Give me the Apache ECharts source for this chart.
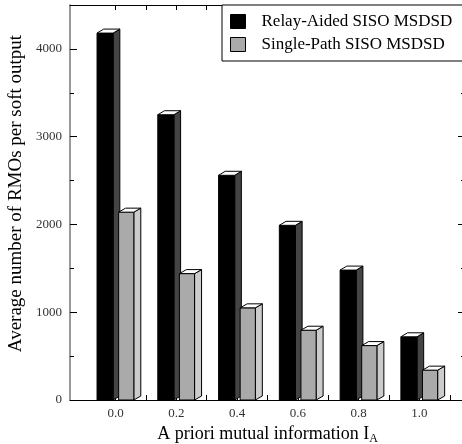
<!DOCTYPE html>
<html>
<head>
<meta charset="utf-8">
<script src="https://cdn.jsdelivr.net/npm/echarts@6/dist/echarts.min.js"></script>
<style>
  html, body { margin: 0; padding: 0; background: #fff; }
  #chart { width: 462px; height: 444px; }
</style>
</head>
<body>
<div id="chart"></div>
<script>
// a priori mutual information values
const priori = [0.0, 0.2, 0.4, 0.6, 0.8, 1.0];
// average RMOs per soft output
const relayAided = [4180, 3250, 2560, 1990, 1480, 720];
const singlePath = [2140, 1440, 1050, 795, 620, 340];
const xTicks = [0.0, 0.1, 0.2, 0.3, 0.4, 0.5, 0.6, 0.7, 0.8, 0.9, 1.0, 1.1];
const xLabels = [0.0, 0.2, 0.4, 0.6, 0.8, 1.0];
const yLabels = [0, 1000, 2000, 3000, 4000];

const FONT = "'Liberation Serif', 'Times New Roman', serif";

// draws one pseudo-3D bar: front face, side face, top face
function bar3d(x0, x1, depth, front, side) {
  return function (params, api) {
    const x = api.value(0);
    const v = api.value(1);
    const tl = api.coord([x + x0, v]);
    const br = api.coord([x + x1, 0]);
    const dx = api.size([depth, 0])[0];
    const dy = 4;
    const xl = tl[0], xr = br[0], yt = tl[1], yb = br[1];
    const line = { stroke: '#000', lineWidth: 1 };
    return {
      type: 'group',
      children: [
        {
          type: 'polygon',
          shape: { points: [[xr, yt], [xr + dx, yt - dy], [xr + dx, yb - dy], [xr, yb]] },
          style: Object.assign({ fill: side }, line)
        },
        {
          type: 'rect',
          shape: { x: xl, y: yt, width: xr - xl, height: yb - yt },
          style: Object.assign({ fill: front }, line)
        },
        {
          type: 'polygon',
          shape: { points: [[xl, yt], [xl + dx, yt - dy], [xr + dx, yt - dy], [xr, yt]] },
          style: Object.assign({ fill: '#fff' }, line)
        }
      ]
    };
  };
}

const chart = echarts.init(document.getElementById('chart'));

chart.setOption({
  animation: false,
  backgroundColor: '#fff',
  grid: { left: 70, top: 5, width: 395, height: 395, outerBoundsMode: 'none', containLabel: false },
  legend: {
    orient: 'vertical',
    left: 222,
    top: 5,
    padding: [8, 40, 8, 8],
    itemGap: 6,
    itemWidth: 15,
    itemHeight: 14,
    borderColor: '#000',
    borderWidth: 1,
    backgroundColor: '#fff',
    itemStyle: { borderColor: '#000', borderWidth: 1 },
    textStyle: { fontFamily: FONT, fontSize: 17, color: '#000', padding: [0, 0, 0, 11] },
    data: [
      { name: 'Relay-Aided SISO MSDSD', icon: 'rect' },
      { name: 'Single-Path SISO MSDSD', icon: 'rect' }
    ]
  },
  xAxis: [
    {
      type: 'value',
      min: -0.15,
      max: 1.15,
      position: 'bottom',
      name: '{a|A priori mutual information I}{s|A}',
      nameLocation: 'middle',
      nameGap: 21,
      nameTextStyle: {
        rich: {
          a: { fontFamily: FONT, fontSize: 18, color: '#000' },
          s: { fontFamily: FONT, fontSize: 12, color: '#000', padding: [10, 0, 0, 0] }
        }
      },
      splitLine: { show: false },
      axisLine: { onZero: false, lineStyle: { color: '#000', width: 1 } },
      axisTick: { inside: true, length: 5, customValues: xTicks, lineStyle: { color: '#000' } },
      axisLabel: {
        customValues: xLabels,
        margin: 7,
        fontFamily: FONT,
        fontSize: 13,
        color: '#333',
        formatter: (v) => v.toFixed(1)
      }
    },
    {
      type: 'value',
      min: -0.15,
      max: 1.15,
      position: 'top',
      splitLine: { show: false },
      axisLine: { onZero: false, lineStyle: { color: '#000', width: 1 } },
      axisTick: { inside: true, length: 5, customValues: xTicks, lineStyle: { color: '#000' } },
      axisLabel: { show: false }
    }
  ],
  yAxis: [
    {
      type: 'value',
      min: 0,
      max: 4500,
      interval: 1000,
      position: 'left',
      name: 'Average number of RMOs per soft output',
      nameLocation: 'middle',
      nameRotate: 90,
      nameGap: 35,
      nameTextStyle: { fontFamily: FONT, fontSize: 19, color: '#000', padding: [0, 0, 0, 18] },
      splitLine: { show: false },
      axisLine: { show: true, onZero: false, lineStyle: { color: '#777', width: 1.5 } },
      axisTick: { inside: true, length: 7, lineStyle: { color: '#000' } },
      minorTick: { show: true, splitNumber: 2, length: 4, lineStyle: { color: '#000' } },
      axisLabel: {
        customValues: yLabels,
        margin: 8,
        fontFamily: FONT,
        fontSize: 13,
        color: '#333',
        formatter: (v) => String(v)
      }
    },
    {
      type: 'value',
      min: 0,
      max: 4500,
      interval: 1000,
      position: 'right',
      splitLine: { show: false },
      axisLine: { show: true, onZero: false, lineStyle: { color: '#000' } },
      axisTick: { inside: true, length: 7, lineStyle: { color: '#000' } },
      minorTick: { show: true, splitNumber: 2, length: 4, lineStyle: { color: '#000' } },
      axisLabel: { show: false }
    }
  ],
  series: [
    {
      name: 'Relay-Aided SISO MSDSD',
      type: 'custom',
      itemStyle: { color: '#000' },
      renderItem: bar3d(-0.061, -0.008, 0.022, '#000', '#444'),
      data: priori.map((x, i) => [x, relayAided[i]]),
      z: 2
    },
    {
      name: 'Single-Path SISO MSDSD',
      type: 'custom',
      itemStyle: { color: '#aaa' },
      renderItem: bar3d(0.01, 0.06, 0.023, '#aaa', '#ccc'),
      data: priori.map((x, i) => [x, singlePath[i]]),
      z: 3
    }
  ]
});
</script>
</body>
</html>
